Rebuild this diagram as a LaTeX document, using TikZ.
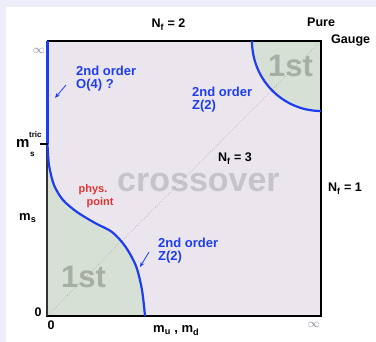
\documentclass[tikz,border=0pt]{standalone}
\usepackage{fontspec}
\setmainfont{Liberation Sans}
\usetikzlibrary{arrows.meta}
\definecolor{bgl}{HTML}{EEEEFA}
\definecolor{sqf}{HTML}{EBE6EE}
\definecolor{grf}{HTML}{D6E0D4}
\definecolor{blc}{HTML}{1E3CF0}
\definecolor{rdc}{HTML}{E03434}
\definecolor{bigc}{HTML}{C6C4CA}
\definecolor{biggc}{HTML}{A8AEA6}
\definecolor{infc}{HTML}{7E8496}
\begin{document}
\begin{tikzpicture}[x=1pt,y=-1pt,
  lbl/.style={font=\fontsize{12.5}{13}\selectfont\bfseries, inner sep=0pt, anchor=base},
  blab/.style={font=\fontsize{13}{14}\selectfont\bfseries, text=blc, inner sep=0pt, anchor=base west},
  rlab/.style={font=\fontsize{11}{12}\selectfont\bfseries, text=rdc, inner sep=0pt, anchor=base},
  mlab/.style={font=\fontsize{13}{14}\selectfont\bfseries, inner sep=0pt, anchor=base west},
  inflab/.style={font=\fontsize{13}{14}\selectfont, text=infc, inner sep=0pt},
  bigt/.style={font=\fontsize{34}{36}\selectfont\bfseries, inner sep=0pt, anchor=base west},
  bcurve/.style={draw=blc, line width=2.2pt},
  barrow/.style={draw=blc, line width=0.8pt, -{Stealth[length=5pt,width=4pt]}}
]
\useasboundingbox (0,0) rectangle (376,342);
\fill[bgl] (0,0) rectangle (376,342);
\fill[white] (6,7) rectangle (376,342);
% square
\fill[sqf] (47,41) rectangle (321,316);
% first-order regions
\fill[grf] plot[smooth] coordinates {(47,144) (49,165) (54,185) (63,200) (77,212) (95,223) (112,232) (125,246) (136,266) (142,290) (145,316)} -- (47,316) -- cycle;
\fill[grf] (321,41) -- (252,41) arc[start angle=180, end angle=90, x radius=69, y radius=70] -- cycle;
% big texts
\node[bigt, text=bigc] (cross) at (117,192) {crossover};
\node[bigt, font=\fontsize{31}{33}\selectfont\bfseries, text=biggc] (fst1) at (268,77) {1st};
\node[bigt, font=\fontsize{31}{33}\selectfont\bfseries, text=biggc] (fst2) at (61,288) {1st};
% diagonal
\coordinate (orig) at (47,316);
\coordinate (corner) at (321,41);
\draw[gray!80, dotted, line width=0.6pt] (orig) -- (corner);
% frame
\draw[black, line width=1.6pt] (47,41) -- (321,41) -- (321,316);
\draw[black, line width=2.6pt] (46,316) -- (322.3,316);
\draw[black!80, line width=1.4pt] (47,41) -- (47,316);
% blue transition lines
\draw[bcurve, line width=3pt] (47.6,41) -- (47.6,144);
\draw[bcurve] plot[smooth] coordinates {(47.5,144) (49,165) (54,185) (63,200) (77,212) (95,223) (112,232) (125,246) (136,266) (142,290) (145,316)};
\draw[bcurve] (252,41) arc[start angle=180, end angle=90, x radius=69, y radius=70];
% tick
\draw[black, line width=2.6pt] (40,144) -- (48,144);
% labels
\node[lbl] (nf2) at (168.5,28) {N\textsubscript{f} = 2};
\node[lbl, anchor=base west] (pure) at (307,27) {Pure};
\node[lbl, anchor=base west] (gauge) at (331,44) {Gauge};
\node[lbl, anchor=base west] (nf1) at (328,192) {N\textsubscript{f} = 1};
\node[lbl, anchor=base west] (nf3) at (218,162) {N\textsubscript{f} = 3};
\node[inflab] (inf1) at (39,50.5) {$\infty$};
\node[inflab] (inf2) at (314,325) {$\infty$};
\node[lbl] (zero1) at (38,317) {0};
\node[lbl] (zero2) at (51,330) {0};
\node[blab] (o4a) at (76,76) {2nd order};
\node[blab] (o4b) at (76,89) {O(4) ?};
\node[blab] (z2a) at (192,97) {2nd order};
\node[blab] (z2b) at (192,110) {Z(2)};
\node[blab] (z3a) at (158,248) {2nd order};
\node[blab] (z3b) at (158,261) {Z(2)};
\node[rlab] (phys) at (93,193) {phys.};
\node[rlab] (point) at (100,206) {point};
\node[mlab, font=\fontsize{15}{16}\selectfont\bfseries] (mt) at (16,148) {m};
\node[lbl, anchor=base west, font=\fontsize{8}{9}\selectfont\bfseries] (tric) at (29,138) {tric};
\node[lbl, anchor=base west, font=\fontsize{8}{9}\selectfont\bfseries] (tris) at (30,157) {s};
\node[mlab] (ms) at (19,221) {m\textsubscript{s}};
\node[mlab] (mud) at (153,333) {m\textsubscript{u} , m\textsubscript{d}};
% arrows
\coordinate (a1s) at (66,85); \coordinate (a1e) at (55,98);
\coordinate (a2s) at (149,252); \coordinate (a2e) at (140,267);
\draw[barrow] (a1s) -- (a1e);
\draw[barrow] (a2s) -- (a2e);
\end{tikzpicture}
\end{document}
